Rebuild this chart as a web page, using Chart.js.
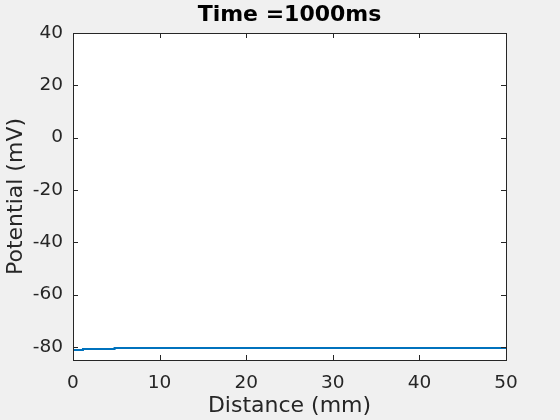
<!DOCTYPE html>
<html>
<head>
<meta charset="utf-8">
<script src="https://cdn.jsdelivr.net/npm/chart.js@4"></script>
<style>
  html, body { margin: 0; padding: 0; background: #f0f0f0; }
  #wrap { width: 560px; height: 420px; }
</style>
</head>
<body>
<div id="wrap"><canvas id="potChart" width="560" height="420"></canvas></div>
<script>
// membrane potential along the fibre at t = 1000 ms (step profile)
const distance = [0, 1.15, 4.8, 6.1, 50];
const potential = [-81.5, -81.15, -80.75, -80.4, -80.4];
const xTicks = [0, 10, 20, 30, 40, 50];
const yTicks = [-80, -60, -40, -20, 0, 20, 40];

const axisColor = '#262626';

// MATLAB-like box with inward ticks on all four sides
const boxTicks = {
  id: 'boxTicks',
  afterDatasetsDraw(chart) {
    const { ctx, chartArea: a, scales } = chart;
    const len = 5;
    ctx.save();
    ctx.strokeStyle = axisColor;
    ctx.lineWidth = 1;
    ctx.beginPath();
    xTicks.forEach(v => {
      const px = Math.round(scales.x.getPixelForValue(v)) + 0.5;
      ctx.moveTo(px, a.bottom); ctx.lineTo(px, a.bottom - len);
      ctx.moveTo(px, a.top); ctx.lineTo(px, a.top + len);
    });
    yTicks.forEach(v => {
      const py = Math.round(scales.y.getPixelForValue(v)) + 0.5;
      ctx.moveTo(a.left, py); ctx.lineTo(a.left + len, py);
      ctx.moveTo(a.right, py); ctx.lineTo(a.right - len, py);
    });
    ctx.stroke();
    ctx.strokeRect(Math.round(a.left) + 0.5, Math.round(a.top) + 0.5,
      Math.round(a.right - a.left), Math.round(a.bottom - a.top));
    ctx.restore();
  }
};

const whiteArea = {
  id: 'whiteArea',
  beforeDraw(chart) {
    const { ctx, chartArea: a } = chart;
    ctx.save();
    ctx.fillStyle = '#f0f0f0';
    ctx.fillRect(0, 0, chart.width, chart.height);
    ctx.fillStyle = '#ffffff';
    ctx.fillRect(a.left, a.top, a.right - a.left, a.bottom - a.top);
    ctx.restore();
  }
};

new Chart(document.getElementById('potChart'), {
  type: 'line',
  data: {
    datasets: [{
      data: distance.map((d, i) => ({ x: d, y: potential[i] })),
      borderColor: '#0072BD',
      borderWidth: 2,
      pointRadius: 0,
      stepped: 'after',
      fill: false
    }]
  },
  options: {
    responsive: false,
    animation: false,
    layout: { padding: { left: 0, right: 54, top: 0, bottom: 0 } },
    plugins: {
      legend: { display: false },
      tooltip: { enabled: false },
      title: {
        display: true,
        fullSize: false,
        text: 'Time =1000ms',
        color: '#000000',
        font: { family: 'DejaVu Sans', size: 22, weight: 'bold' },
        padding: { top: 2, bottom: 4.6 }
      }
    },
    scales: {
      x: {
        type: 'linear',
        min: 0,
        max: 50,
        afterBuildTicks: s => { s.ticks = xTicks.map(v => ({ value: v })); },
        afterFit: s => { s.height = 60; },
        grid: { display: false, drawTicks: false },
        border: { display: false },
        ticks: {
          color: axisColor,
          padding: 12,
          maxRotation: 0,
          font: { family: 'DejaVu Sans', size: 18.5 }
        },
        title: {
          display: true,
          text: 'Distance (mm)',
          color: axisColor,
          padding: { top: 0, bottom: 1 },
          font: { family: 'DejaVu Sans', size: 22 }
        }
      },
      y: {
        min: -85,
        max: 40,
        afterBuildTicks: s => { s.ticks = yTicks.map(v => ({ value: v })); },
        afterFit: s => { s.width = 73; },
        grid: { display: false, drawTicks: false },
        border: { display: false },
        ticks: {
          color: axisColor,
          padding: 10,
          font: { family: 'DejaVu Sans', size: 18.5 }
        },
        title: {
          display: true,
          text: 'Potential (mV)',
          color: axisColor,
          padding: { top: 3, bottom: 0 },
          font: { family: 'DejaVu Sans', size: 22 }
        }
      }
    }
  },
  plugins: [whiteArea, boxTicks]
});
</script>
</body>
</html>
